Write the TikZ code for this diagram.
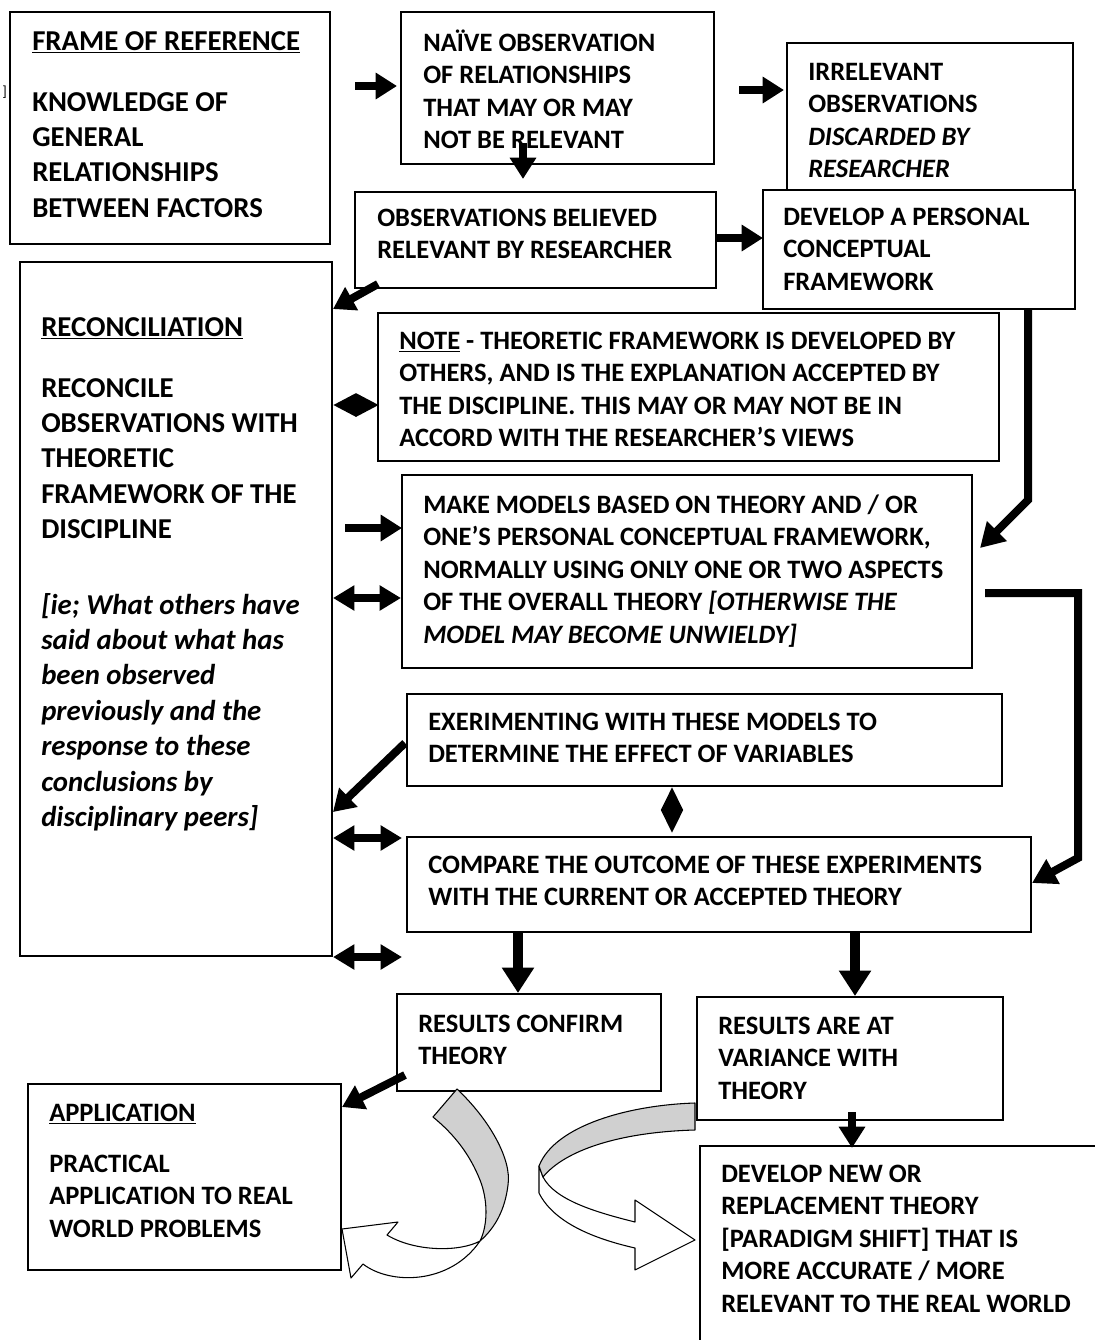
\documentclass[tikz,border=0pt]{standalone}
\usepackage{fontspec}
\setmainfont{Carlito}
\usetikzlibrary{arrows.meta,shapes.geometric,fit}

\definecolor{bandgray}{RGB}{208,208,208}

% stacked lines whose baseline is the first line's baseline
\newcommand{\lns}[1]{\parbox[t]{16cm}{#1}}
\newcommand{\normfont}{\bfseries\fontsize{19.9}{24.4}\selectfont}
\newcommand{\bigfont}{\bfseries\fontsize{21.6}{26.6}\selectfont}

\tikzset{
  box/.style={draw, line width=1.3pt, inner sep=0pt},
  txt/.style={anchor=base west, inner sep=0pt, font=\normfont},
  bigtxt/.style={anchor=base west, inner sep=0pt, font=\bigfont},
  blk/.style={line width=6pt, -{Triangle[length=16pt,width=19pt]}},
  bigblk/.style={line width=7pt, -{Triangle[length=19pt,width=23pt]}},
  dbl/.style={line width=5.5pt, {Triangle[length=16pt,width=18pt]}-{Triangle[length=16pt,width=18pt]}},
  elbow/.style={line width=6pt, line join=miter, -{Triangle[length=18pt,width=20pt]}},
  dia/.style={diamond, fill=black, inner sep=0pt},
  band/.style={draw=black, line width=0.8pt, line join=round},
}

\begin{document}
\begin{tikzpicture}[x=0.75pt, y=-0.75pt]
  \useasboundingbox (0,0) rectangle (1095,1340);
  \fill[white] (0,0) rectangle (1095,1340);
  \clip (0,0) rectangle (1095,1340);

  % ---------- boxes ----------
  \node[box, fit={(10,12) (330,244)}] (frame) {};
  \node[box, fit={(401,12) (714,164)}] (naive) {};
  \node[box, fit={(787,43) (1073,190)}] (irrel) {};
  \node[box, fit={(355,192) (716,288)}] (obs) {};
  \node[box, fit={(763,190) (1075,309)}] (dev) {};
  \node[box, fit={(20,262) (332,956)}] (recon) {};
  \node[box, fit={(378,313) (999,461)}] (note) {};
  \node[box, fit={(402,475) (972,668)}] (models) {};
  \node[box, fit={(407,694) (1002,786)}] (exper) {};
  \node[box, fit={(407,837) (1031,932)}] (comp) {};
  \node[box, fit={(397,994) (661,1091)}] (conf) {};
  \node[box, fit={(697,997) (1003,1120)}] (vari) {};
  \node[box, fit={(28,1084) (341,1270)}] (appl) {};
  \node[box, fit={(700,1146) (1120,1380)}] (newth) {};

  % ---------- texts ----------
  \node[anchor=base west, inner sep=0pt, font=\rmfamily\fontsize{11}{13}\selectfont] (mark) at (2,96) {]};

  \node[bigtxt] (frameH) at (32,50) {\underline{FRAME OF REFERENCE}};
  \node[bigtxt] (frameT) at (32,111) {\lns{KNOWLEDGE OF\\GENERAL\\RELATIONSHIPS\\BETWEEN FACTORS}};

  \node[txt] (naiveT) at (423,51) {\lns{NAÏVE OBSERVATION\\OF RELATIONSHIPS\\THAT MAY OR MAY\\NOT BE RELEVANT}};
  \node[txt] (irrelT) at (808,80) {\lns{IRRELEVANT\\OBSERVATIONS\\\textit{DISCARDED BY}\\\textit{RESEARCHER}}};
  \node[txt] (obsT) at (377,226) {\lns{OBSERVATIONS BELIEVED\\RELEVANT BY RESEARCHER}};
  \node[txt] (devT) at (783,225) {\lns{DEVELOP A PERSONAL\\CONCEPTUAL\\FRAMEWORK}};

  \node[bigtxt] (reconH) at (41,336) {\underline{RECONCILIATION}};
  \node[bigtxt] (reconT) at (41,397) {\lns{RECONCILE\\OBSERVATIONS WITH\\THEORETIC\\FRAMEWORK OF THE\\DISCIPLINE}};
  \node[bigtxt] (reconI) at (41,614) {\lns{\itshape [ie; What others have\\said about what has\\been observed\\previously and the\\response to these\\conclusions by\\disciplinary peers]}};

  \node[txt] (noteT) at (399,349) {\lns{\underline{NOTE} - THEORETIC FRAMEWORK IS DEVELOPED BY\\OTHERS, AND IS THE EXPLANATION ACCEPTED BY\\THE DISCIPLINE. THIS MAY OR MAY NOT BE IN\\ACCORD WITH THE RESEARCHER’S VIEWS}};
  \node[txt] (modelsT) at (423,513) {\lns{MAKE MODELS BASED ON THEORY AND / OR\\ONE’S PERSONAL CONCEPTUAL FRAMEWORK,\\NORMALLY USING ONLY ONE OR TWO ASPECTS\\OF THE OVERALL THEORY \textit{[OTHERWISE THE}\\\textit{MODEL MAY BECOME UNWIELDY]}}};
  \node[txt] (experT) at (428,730) {\lns{EXERIMENTING WITH THESE MODELS TO\\DETERMINE THE EFFECT OF VARIABLES}};
  \node[txt] (compT) at (428,873) {\lns{COMPARE THE OUTCOME OF THESE EXPERIMENTS\\WITH THE CURRENT OR ACCEPTED THEORY}};
  \node[txt] (confT) at (418,1032) {\lns{RESULTS CONFIRM\\THEORY}};
  \node[txt] (variT) at (718,1034) {\lns{RESULTS ARE AT\\VARIANCE WITH\\THEORY}};
  \node[txt] (applH) at (49,1121) {\underline{APPLICATION}};
  \node[txt] (applT) at (49,1172) {\lns{PRACTICAL\\APPLICATION TO REAL\\WORLD PROBLEMS}};
  \node[txt] (newthT) at (721,1182) {\lns{DEVELOP NEW OR\\REPLACEMENT THEORY\\{}[PARADIGM SHIFT] THAT IS\\MORE ACCURATE / MORE\\RELEVANT TO THE REAL WORLD}};

  % ---------- connector end points ----------
  \coordinate (a1s) at (355,86);   \coordinate (a1e) at (397,86);
  \coordinate (a2s) at (739,90);   \coordinate (a2e) at (784,90);
  \coordinate (a3s) at (715,238);  \coordinate (a3e) at (763,238);
  \coordinate (d1s) at (523,143);  \coordinate (d1e) at (523,179);
  \coordinate (g1s) at (378,284);  \coordinate (g1e) at (333,309);
  \coordinate (e1a) at (1028,309); \coordinate (e1b) at (1028,500); \coordinate (e1e) at (980,548);
  \coordinate (a4s) at (345,528);  \coordinate (a4e) at (402,528);
  \coordinate (b1s) at (333,598);  \coordinate (b1e) at (401,598);
  \coordinate (e2a) at (985,593);  \coordinate (e2b) at (1078,593); \coordinate (e2c) at (1078,858); \coordinate (e2e) at (1032,883);
  \coordinate (g2s) at (405,743);  \coordinate (g2e) at (333,812);
  \coordinate (b2s) at (333,838);  \coordinate (b2e) at (402,838);
  \coordinate (b3s) at (333,957);  \coordinate (b3e) at (402,957);
  \coordinate (d2s) at (518,932);  \coordinate (d2e) at (518,993);
  \coordinate (d3s) at (855,932);  \coordinate (d3e) at (855,996);
  \coordinate (g3s) at (405,1075); \coordinate (g3e) at (342,1107);
  \coordinate (d4s) at (852,1112); \coordinate (d4e) at (852,1148);

  % ---------- straight block arrows ----------
  \draw[blk] (a1s) -- (a1e);
  \draw[blk] (a2s) -- (a2e);
  \draw[blk] (a3s) -- (a3e);
  \draw[blk] (d1s) -- (d1e);
  \draw[blk] (g1s) -- (g1e);
  \draw[blk] (a4s) -- (a4e);
  \draw[blk] (g2s) -- (g2e);
  \draw[blk] (g3s) -- (g3e);
  \draw[blk] (d4s) -- (d4e);
  \draw[bigblk] (d2s) -- (d2e);
  \draw[bigblk] (d3s) -- (d3e);

  % ---------- two-headed arrows ----------
  \draw[dbl] (b1s) -- (b1e);
  \draw[dbl] (b2s) -- (b2e);
  \draw[dbl] (b3s) -- (b3e);

  % ---------- elbow connectors ----------
  \draw[elbow] (e1a) -- (e1b) -- (e1e);
  \draw[elbow] (e2a) -- (e2b) -- (e2c) -- (e2e);

  % ---------- diamonds ----------
  \node[dia, minimum width=34pt, minimum height=18pt] (dmd1) at (356,405) {};
  \node[dia, minimum width=17pt, minimum height=34pt] (dmd2) at (672,810) {};

  % ---------- curved arrow towards application ----------
  \filldraw[band, fill=white]
    (480,1241) .. controls (460,1252) and (415,1252) .. (387,1235)
    -- (398,1222) -- (342,1229) -- (351,1278) -- (363,1264)
    .. controls (390,1285) and (450,1285) .. (480,1241) -- cycle;
  \filldraw[band, fill=bandgray]
    (433,1117) -- (457,1089)
    .. controls (490,1120) and (512,1160) .. (508,1185)
    .. controls (505,1210) and (495,1228) .. (480,1241)
    .. controls (488,1225) and (488,1200) .. (480,1180)
    .. controls (470,1155) and (455,1135) .. (433,1117) -- cycle;

  % ---------- curved arrow towards the new theory ----------
  \filldraw[band, fill=white]
    (539,1166) -- (539,1193)
    .. controls (555,1225) and (600,1240) .. (635,1248)
    -- (635,1270) -- (695,1240) -- (635,1200) -- (635,1222)
    .. controls (595,1212) and (555,1200) .. (543,1177) -- cycle;
  \filldraw[band, fill=bandgray]
    (695,1103) .. controls (630,1105) and (555,1125) .. (539,1166)
    -- (543,1177) .. controls (565,1150) and (620,1132) .. (695,1130) -- cycle;
\end{tikzpicture}
\end{document}
